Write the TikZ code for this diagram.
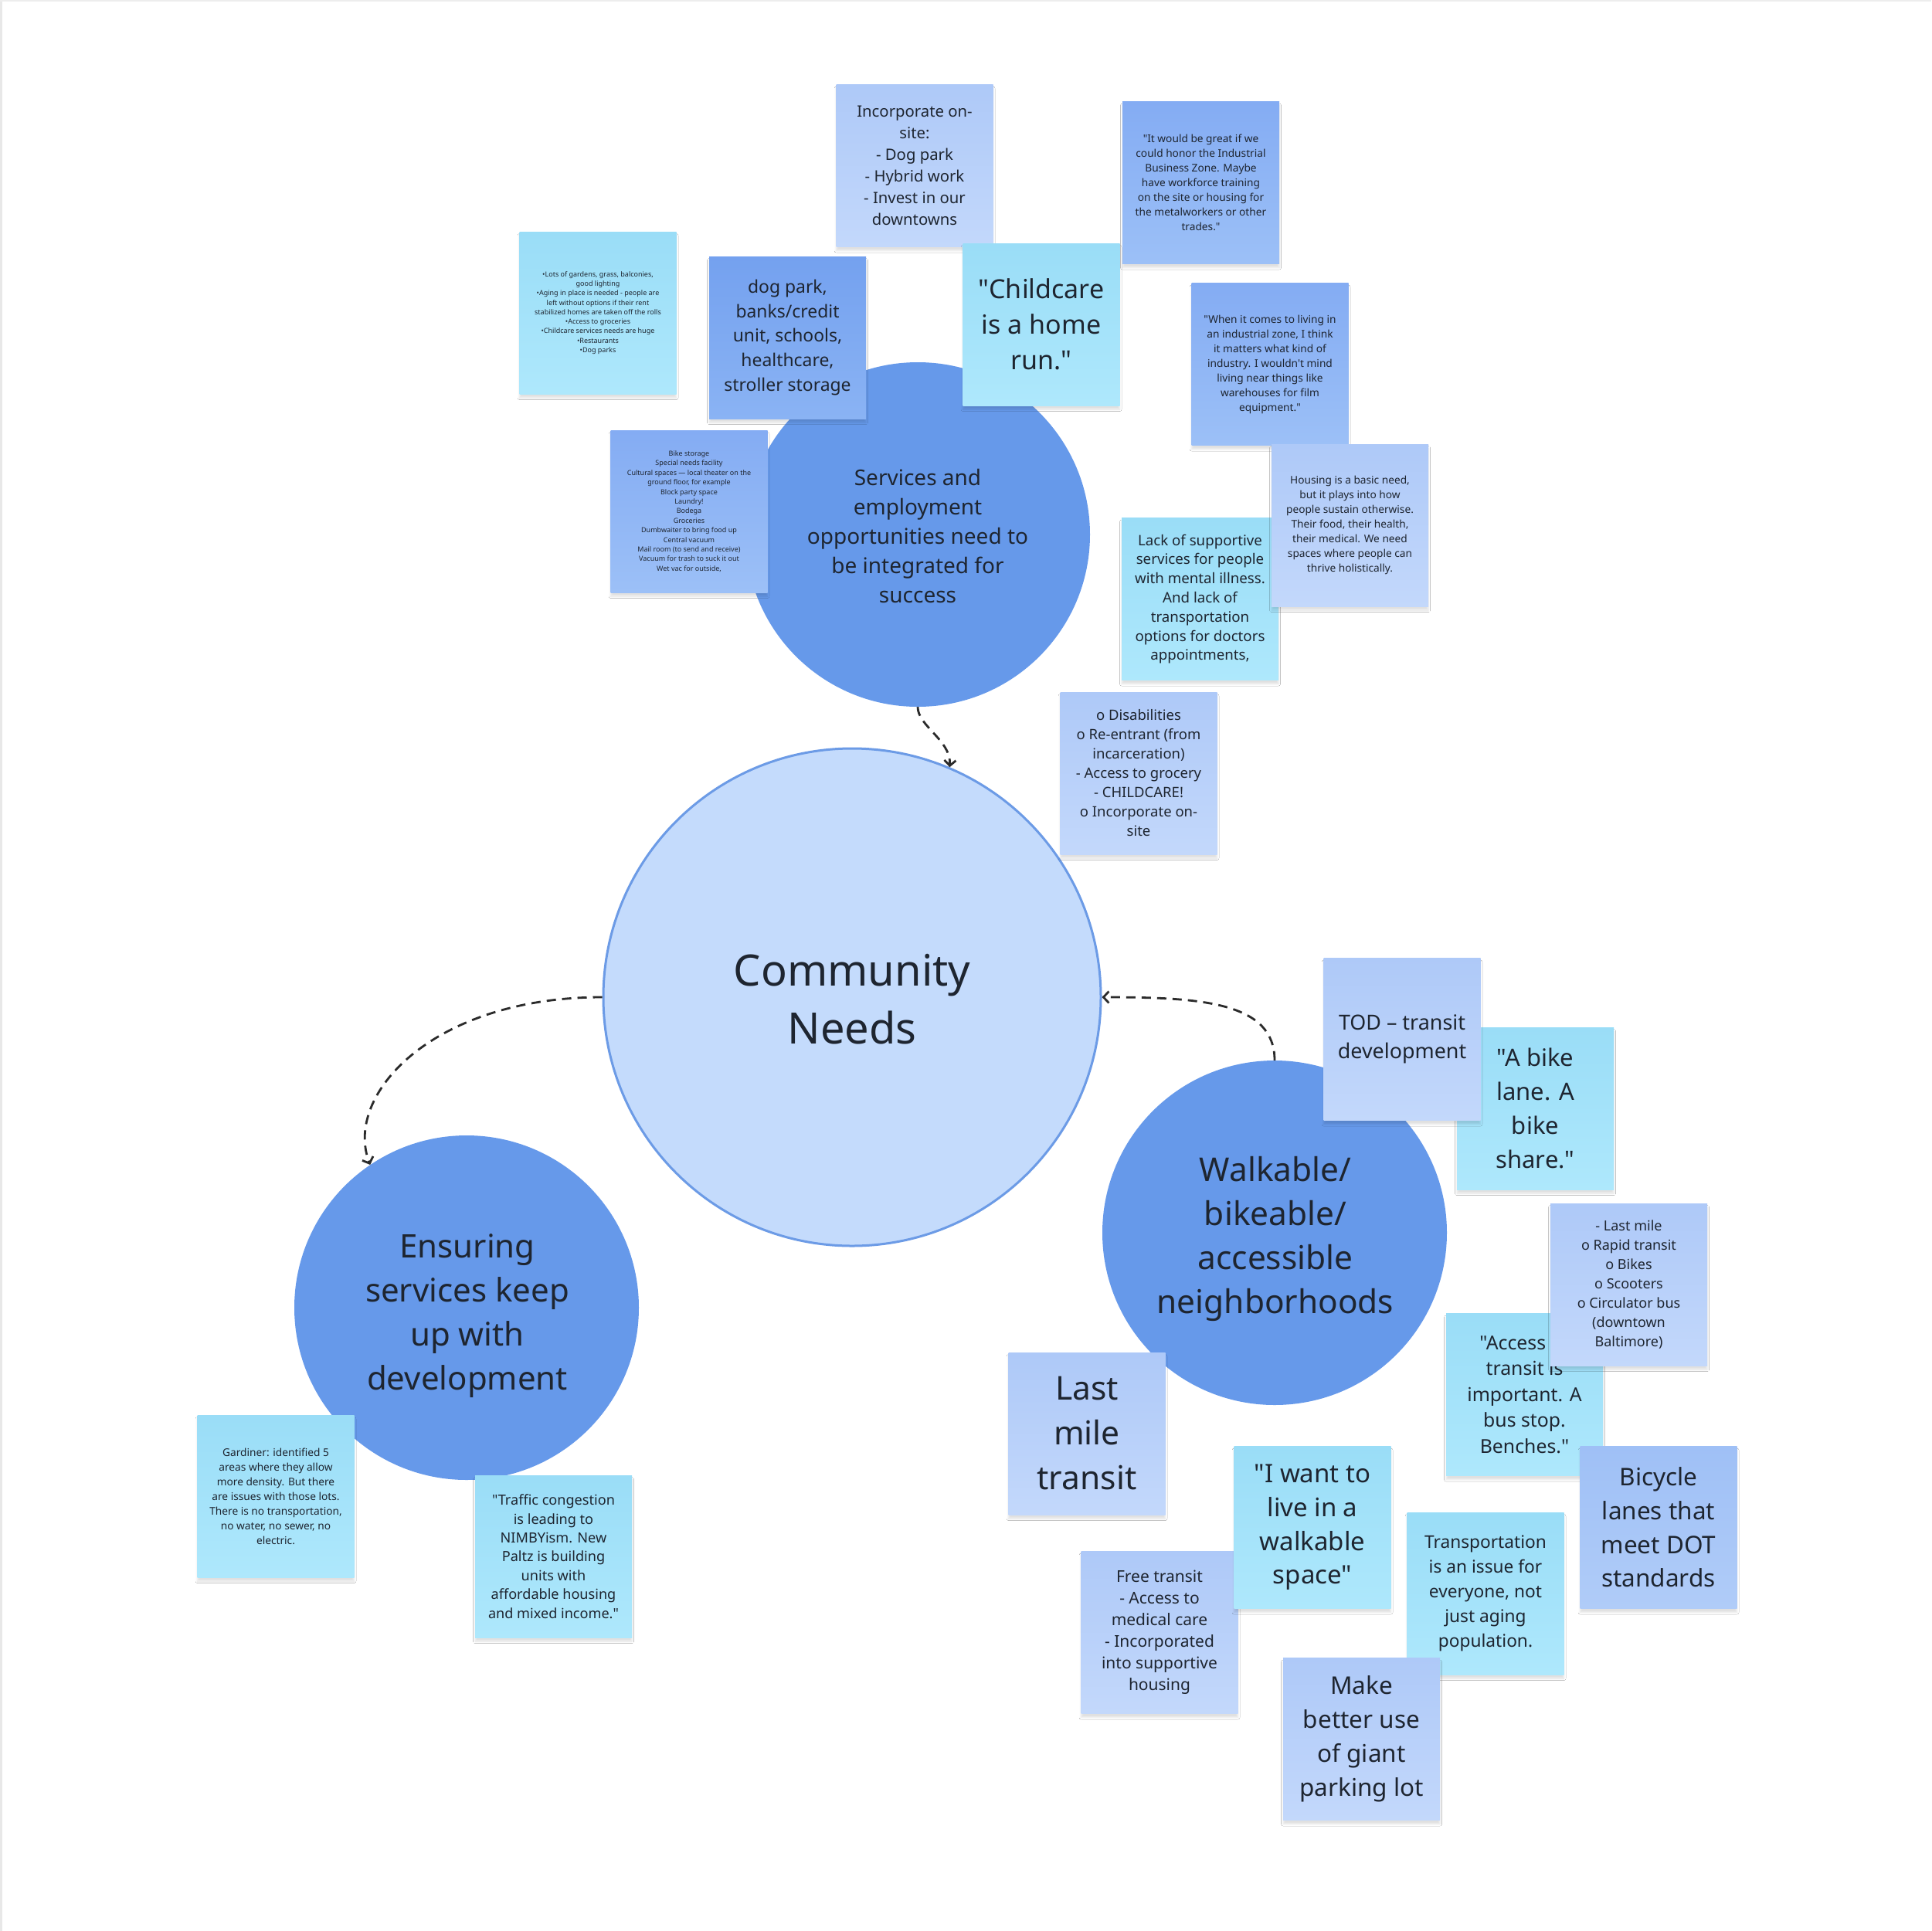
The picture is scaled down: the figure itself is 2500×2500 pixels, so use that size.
\documentclass[tikz,border=0pt]{standalone}
\usepackage{fontspec}
\setmainfont{Noto Sans}[Ligatures=TeXOff]
\usetikzlibrary{arrows.meta,shadows.blur}
\definecolor{txtc}{HTML}{1E2530}
\definecolor{circD}{HTML}{6699EA}
\definecolor{cnFill}{HTML}{C4DBFC}
\definecolor{cnLine}{HTML}{6C9BE6}
\definecolor{cyT}{HTML}{9ADDF7}
\definecolor{cyB}{HTML}{AEE8FC}
\definecolor{mdT}{HTML}{84ACF3}
\definecolor{mdB}{HTML}{9CC0F7}
\definecolor{dkT}{HTML}{74A1EF}
\definecolor{dkB}{HTML}{8AB3F4}
\definecolor{ltT}{HTML}{AEC9F8}
\definecolor{ltB}{HTML}{C3D8FB}
\definecolor{bcT}{HTML}{9FC0F6}
\definecolor{bcB}{HTML}{B0CCF8}
\definecolor{connc}{HTML}{2B2B2B}
\tikzset{
  fs/.style 2 args={font=\fontsize{#1}{#2}\selectfont},
  note/.style={rectangle, minimum width=203pt, minimum height=210pt, inner sep=0pt,
    text=txtc, align=center,
    blur shadow={shadow xshift=0pt, shadow yshift=-5pt, shadow blur radius=2.5pt, shadow opacity=12}},
  cyannote/.style={note, top color=cyT, bottom color=cyB},
  mednote/.style={note, top color=mdT, bottom color=mdB},
  darknote/.style={note, top color=dkT, bottom color=dkB},
  lightnote/.style={note, top color=ltT, bottom color=ltB},
  bicnote/.style={note, top color=bcT, bottom color=bcB},
  bigcirc/.style={circle, inner sep=0pt, fill=circD, minimum size=446pt},
  ctext/.style={text=txtc, align=center, inner sep=0pt},
  conn/.style={draw=connc, line width=2.8pt, dash pattern=on 12pt off 8pt,
    -{Straight Barb[length=7pt,width=15pt,line width=2.8pt]}},
}
\begin{document}
\begin{tikzpicture}[x=1pt,y=-1pt]
\useasboundingbox (0,0) rectangle (2500,2500);
\fill[white] (0,0) rectangle (2500,2500);
\draw[black!9, line width=3pt] (1.5,0) -- (1.5,2500);
\draw[black!7, line width=2pt] (0,1) -- (2500,1);

% circles
\node[circle, inner sep=0pt, minimum size=644pt, fill=cnFill, draw=cnLine, line width=3pt] (CN) at (1103,1291) {};
\node[ctext, fs={56}{75}] (CNt) at (1103,1294) {Community\\Needs};
\node[bigcirc] (S) at (1188,692) {};
\node[ctext, fs={28}{38}] (St) at (1188,694)
  {Services and\\employment\\opportunities need to\\be integrated for\\success};
\node[bigcirc] (E) at (604,1693) {};
\node[ctext, fs={42}{57}] (Et) at (605,1704)
  {Ensuring\\services keep\\up with\\development};
\node[bigcirc] (W) at (1650,1596) {};
\node[ctext, fs={42.4}{57}] (Wt) at (1651,1604)
  {Walkable/\\bikeable/\\accessible\\neighborhoods};

% connectors
\draw[conn] (S.south) .. controls +(0,25) and +(2,-35) .. (CN.67);
\draw[conn] (CN.west) .. controls +(-220,0) and +(-35,-90) .. (E.124);
\draw[conn] (W.north) .. controls +(0,-75) and +(130,0) .. (CN.east);

% notes around services
\node[cyannote, fs={9}{12.3}] (n1) at (774,405)
  {•Lots of gardens, grass, balconies,\\good lighting\\•Aging in place is needed - people are\\left without options if their rent\\stabilized homes are taken off the rolls\\•Access to groceries\\•Childcare services needs are huge\\•Restaurants\\•Dog parks};
\node[darknote, fs={22.9}{31.6}] (n2) at (1019.5,437)
  {dog park,\\banks/credit\\unit, schools,\\healthcare,\\stroller storage};
\node[lightnote, fs={20.3}{28}] (n3) at (1184,214.5)
  {Incorporate on-\\site:\\- Dog park\\- Hybrid work\\- Invest in our\\downtowns};
\node[cyannote, fs={34}{46}] (n4) at (1348,420)
  {"Childcare\\is a home\\run."};
\node[mednote, fs={13.7}{19}] (n5) at (1554.5,236.5)
  {"It would be great if we\\could honor the Industrial\\Business Zone. Maybe\\have workforce training\\on the site or housing for\\the metalworkers or other\\trades."};
\node[mednote, fs={13.7}{19}] (n6) at (1644,471.5)
  {"When it comes to living in\\an industrial zone, I think\\it matters what kind of\\industry. I wouldn't mind\\living near things like\\warehouses for film\\equipment."};
\node[cyannote, fs={18.7}{24.8}] (n8) at (1553.5,775.5)
  {Lack of supportive\\services for people\\with mental illness.\\And lack of\\transportation\\options for doctors\\appointments,};
\node[lightnote, fs={13.7}{19}] (n7) at (1747.5,680)
  {Housing is a basic need,\\but it plays into how\\people sustain otherwise.\\Their food, their health,\\their medical. We need\\spaces where people can\\thrive holistically.};
\node[mednote, fs={9}{12.4}] (n9) at (892,662)
  {Bike storage\\Special needs facility\\Cultural spaces — local theater on the\\ground floor, for example\\Block party space\\Laundry!\\Bodega\\Groceries\\Dumbwaiter to bring food up\\Central vacuum\\Mail room (to send and receive)\\Vacuum for trash to suck it out\\Wet vac for outside,};
\node[lightnote, fs={18.5}{25}] (n10) at (1474,1001)
  {o Disabilities\\o Re-entrant (from\\incarceration)\\- Access to grocery\\- CHILDCARE!\\o Incorporate on-\\site};

% notes around walkable
\node[cyannote, fs={31}{44}] (n12) at (1987.5,1435)
  {"A bike\\lane. A\\bike\\share."};
\node[lightnote, fs={26.9}{37}] (n11) at (1815,1345.5)
  {TOD – transit\\development};
\node[cyannote, fs={24.8}{33.5}] (n14) at (1973.5,1805.5)
  {"Access to\\transit is\\important. A\\bus stop.\\Benches."};
\node[lightnote, fs={18}{25}] (n13) at (2108.5,1663)
  {- Last mile\\o Rapid transit\\o Bikes\\o Scooters\\o Circulator bus\\(downtown\\Baltimore)};
\node[bicnote, fs={31.5}{43.6}] (n15) at (2147,1977.5)
  {Bicycle\\lanes that\\meet DOT\\standards};
\node[lightnote, fs={42.5}{58}] (n16) at (1407,1856)
  {Last\\mile\\transit};
\node[lightnote, fs={21}{28}] (n18) at (1501,2113.5)
  {Free transit\\- Access to\\medical care\\- Incorporated\\into supportive\\housing};
\node[cyannote, fs={33}{43.6}] (n17) at (1699,1977.5)
  {"I want to\\live in a\\walkable\\space"};
\node[cyannote, fs={22.7}{32}] (n19) at (1923,2063)
  {Transportation\\is an issue for\\everyone, not\\just aging\\population.};
\node[lightnote, fs={31.5}{44}] (n20) at (1762.5,2251.5)
  {Make\\better use\\of giant\\parking lot};

% notes around ensuring
\node[cyannote, fs={13.7}{19}] (n21) at (357,1937)
  {Gardiner: identified 5\\areas where they allow\\more density. But there\\are issues with those lots.\\There is no transportation,\\no water, no sewer, no\\electric.};
\node[cyannote, fs={18.1}{24.4}] (n22) at (716.5,2015)
  {"Traffic congestion\\is leading to\\NIMBYism. New\\Paltz is building\\units with\\affordable housing\\and mixed income."};
\end{tikzpicture}
\end{document}
